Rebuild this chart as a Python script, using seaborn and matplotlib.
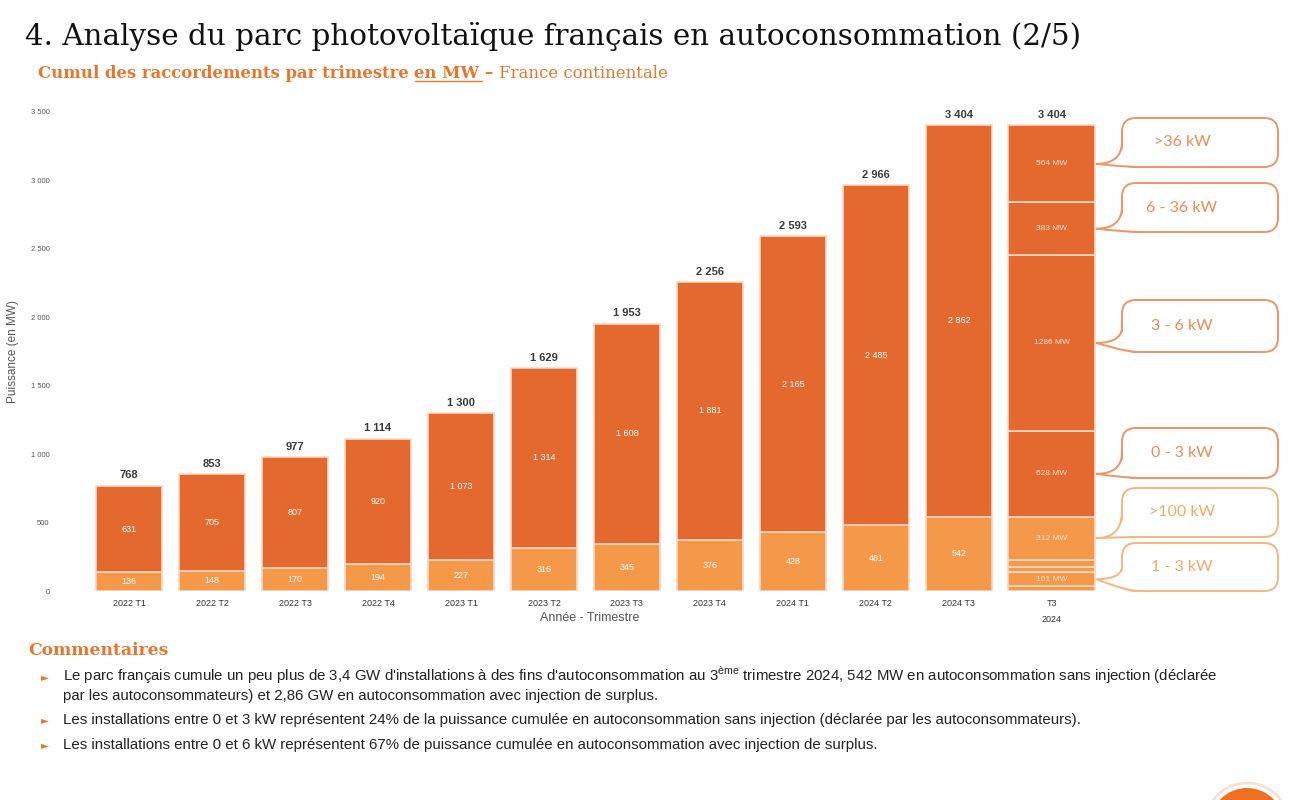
import matplotlib
matplotlib.use('Agg')
import matplotlib.pyplot as plt
import seaborn as sns
import numpy as np
from matplotlib.patches import FancyBboxPatch, PathPatch, Circle
from matplotlib.path import Path

# ---- donnees (MW cumules) ----
trimestres = ['2022 T1', '2022 T2', '2022 T3', '2022 T4', '2023 T1', '2023 T2',
              '2023 T3', '2023 T4', '2024 T1', '2024 T2', '2024 T3']
sans_injection = [136, 148, 170, 194, 227, 316, 345, 376, 428, 481, 542]
avec_injection = [631, 705, 807, 920, 1073, 1314, 1608, 1881, 2165, 2485, 2862]
totaux = [768, 853, 977, 1114, 1300, 1629, 1953, 2256, 2593, 2966, 3404]

# detail du dernier trimestre par tranche de puissance (bas -> haut)
detail_sans_val = [36, 101, 36, 57, 312]
detail_sans_lab = ['', '1 - 3 kW', '', '', '>100 kW']
detail_avec_val = [628, 1286, 383, 564]
detail_avec_lab = ['0 - 3 kW', '3 - 6 kW', '6 - 36 kW', '>36 kW']
detail_total = 3404

orange_fonce = '#E4692F'
orange_clair = '#F4994A'
bord = '#F9D9C4'
gris = '#555555'

sns.set_style('white')
plt.rcParams['font.family'] = ['Liberation Sans', 'DejaVu Sans']

fig = plt.figure(figsize=(13, 8), dpi=100)
W, H = 1300, 800

# calque en pixels pour les textes et bulles
over = fig.add_axes([0, 0, 1, 1], zorder=-1)
over.set_xlim(0, W)
over.set_ylim(H, 0)
over.axis('off')

ax = fig.add_axes([80 / W, 1 - 591 / H, (1100 - 80) / W, (591 - 112) / H])
ax.patch.set_alpha(0)

sns.barplot(x=trimestres, y=totaux, color=orange_fonce, saturation=1, width=0.8,
            edgecolor=bord, linewidth=1.2, ax=ax)
sns.barplot(x=trimestres, y=sans_injection, color=orange_clair, saturation=1, width=0.8,
            edgecolor=bord, linewidth=1.2, ax=ax)

for i in range(len(trimestres)):
    ax.text(i, sans_injection[i] / 2, str(sans_injection[i]), ha='center', va='center',
            color='white', fontsize=6.5)
    mid = sans_injection[i] + (totaux[i] - sans_injection[i]) / 2
    ax.text(i, mid, f"{avec_injection[i]:,}".replace(',', ' '), ha='center', va='center',
            color='white', fontsize=6.5)
    ax.annotate(f"{totaux[i]:,}".replace(',', ' '), (i, totaux[i]), xytext=(0, 4),
                textcoords='offset points', ha='center', va='bottom',
                color='#3a3a3a', fontsize=8, fontweight='bold')

# barre de detail T3 2024
xd = 11.12
wd = 1.05
bas = 0
milieux = []
for v, lab in zip(detail_sans_val, detail_sans_lab):
    ax.bar(xd, v, bottom=bas, width=wd, color=orange_clair, edgecolor=bord, linewidth=1.2)
    milieux.append((bas + v / 2, v, lab))
    bas += v
for v, lab in zip(detail_avec_val, detail_avec_lab):
    ax.bar(xd, v, bottom=bas, width=wd, color=orange_fonce, edgecolor=bord, linewidth=1.2)
    milieux.append((bas + v / 2, v, lab))
    bas += v
for m, v, lab in milieux:
    if lab:
        ax.text(xd, m, f"{v} MW", ha='center', va='center', color='#FCE3D3', fontsize=6)
ax.annotate(f"{detail_total:,}".replace(',', ' '), (xd, detail_total), xytext=(0, 4),
            textcoords='offset points', ha='center', va='bottom',
            color='#3a3a3a', fontsize=8, fontweight='bold')

ax.set_xlim(-0.59, 11.7)
ax.set_ylim(0, 3500)
ticks = list(range(0, 3501, 500))
ax.set_yticks(ticks)
ax.set_yticklabels([f"{t:,}".replace(',', ' ') for t in ticks], fontsize=5.5, color=gris)
ax.set_xticks(list(range(len(trimestres))) + [xd])
ax.set_xticklabels(trimestres + ['T3\n2024'], fontsize=6.5, color='#333333', linespacing=2.0)
ax.tick_params(axis='both', length=0, pad=6)
ax.tick_params(axis='y', pad=22)
sns.despine(ax=ax, left=True, bottom=True)
ax.set_xlabel('Année - Trimestre', fontsize=9, color=gris, labelpad=-9)
ax.set_ylabel('Puissance (en MW)', fontsize=8.5, color=gris, labelpad=2)
ax.yaxis.set_label_coords(-0.06, 0.5)

# bulles a droite
tr = lambda x, y: ax.transData.transform((x, y))
tip_x = tr(xd + wd / 2, 0)[0] + 1
bulles = [
    ('>36 kW', 118, 167, 3121, '#EE9467', '#EE8A55'),
    ('6 - 36 kW', 183, 232, 2647.5, '#EE9467', '#EE8A55'),
    ('3 - 6 kW', 300, 352, 1813, '#EE9467', '#EE8A55'),
    ('0 - 3 kW', 428, 478, 856, '#EE9467', '#EE8A55'),
    ('>100 kW', 488, 537, 386, '#F5B680', '#F3A868'),
    ('1 - 3 kW', 543, 591, 86.5, '#F5B680', '#F3A868'),
]
x0, bw = 1122, 156
for txt, top, bot, ymw, ec, tc in bulles:
    ty = H - tr(0, ymw)[1]
    box = FancyBboxPatch((x0, top), bw, bot - top,
                         boxstyle='round,pad=0,rounding_size=14',
                         fc='white', ec=ec, lw=1.4, zorder=2)
    over.add_patch(box)
    ya = bot - 24
    cover = Path([(x0 + 2, ya), (x0 - 1, ty), (tip_x, ty), (x0 + 4, bot - 1),
                  (x0 + 16, bot - 1), (x0 + 2, ya)],
                 [Path.MOVETO, Path.CURVE3, Path.CURVE3, Path.CURVE3, Path.CURVE3, Path.CLOSEPOLY])
    over.add_patch(PathPatch(cover, fc='white', ec='none', zorder=3))
    line = Path([(x0, ya), (x0 - 1, ty), (tip_x, ty), (x0 + 4, bot), (x0 + 16, bot)],
                [Path.MOVETO, Path.CURVE3, Path.CURVE3, Path.CURVE3, Path.CURVE3])
    over.add_patch(PathPatch(line, fc='none', ec=ec, lw=1.4, zorder=4))
    over.text(1182, (top + bot) / 2, txt, ha='center', va='center', color=tc,
              fontsize=11.5, family=['Lato', 'DejaVu Sans'], zorder=5)

# titres
fig.canvas.draw()
rend = fig.canvas.get_renderer()

over.text(25, 45, '4. Analyse du parc photovoltaïque français en autoconsommation (2/5)',
          fontsize=21.2, family=['DejaVu Serif'], color='#111111', va='baseline')


def morceau(x, y, s, **kw):
    t = over.text(x, y, s, va='baseline', **kw)
    bb = t.get_window_extent(rend)
    return t, bb.x0, bb.x1


sub = dict(fontsize=11.9, family=['DejaVu Serif'], color='#E8772E')
_, a0, a1 = morceau(38, 78, 'Cumul des raccordements par trimestre ', fontweight='bold', **sub)
_, b0, b1 = morceau(a1, 78, 'en MW ', fontweight='bold', **sub)
over.plot([b0, b1 - 3], [81, 81], color='#E8772E', lw=1)
_, c0, c1 = morceau(b1, 78, '– ', fontweight='bold', **sub)
morceau(c1, 78, 'France continentale', **sub)

# commentaires
over.text(28, 655, 'Commentaires', fontsize=12.3, fontweight='bold',
          family=['DejaVu Serif'], color='#E8772E', va='baseline')
puces = [
    (681, ["Le parc français cumule un peu plus de 3,4 GW d'installations à des fins d'autoconsommation au "
           r"3$^{\mathregular{ème}}$ trimestre 2024, 542 MW en autoconsommation sans injection (déclarée",
           "par les autoconsommateurs) et 2,86 GW en autoconsommation avec injection de surplus."]),
    (724, ["Les installations entre 0 et 3 kW représentent 24% de la puissance cumulée en autoconsommation "
           "sans injection (déclarée par les autoconsommateurs)."]),
    (749, ["Les installations entre 0 et 6 kW représentent 67% de puissance cumulée en autoconsommation "
           "avec injection de surplus."]),
]
for y, lignes in puces:
    over.text(41, y - 1, '►', fontsize=7.5, color='#E8772E', va='baseline', family='DejaVu Sans')
    for k, l in enumerate(lignes):
        over.text(63, y + 19 * k, l, fontsize=10.8, color='#222222', va='baseline')

# logo coupe en bas a droite
over.add_patch(Circle((1247, 825), 42, fc='white', ec='#F3E1D6', lw=2))
over.add_patch(Circle((1247, 825), 37, fc='#F07022', ec='none'))

fig.savefig('out.png', dpi=100)
